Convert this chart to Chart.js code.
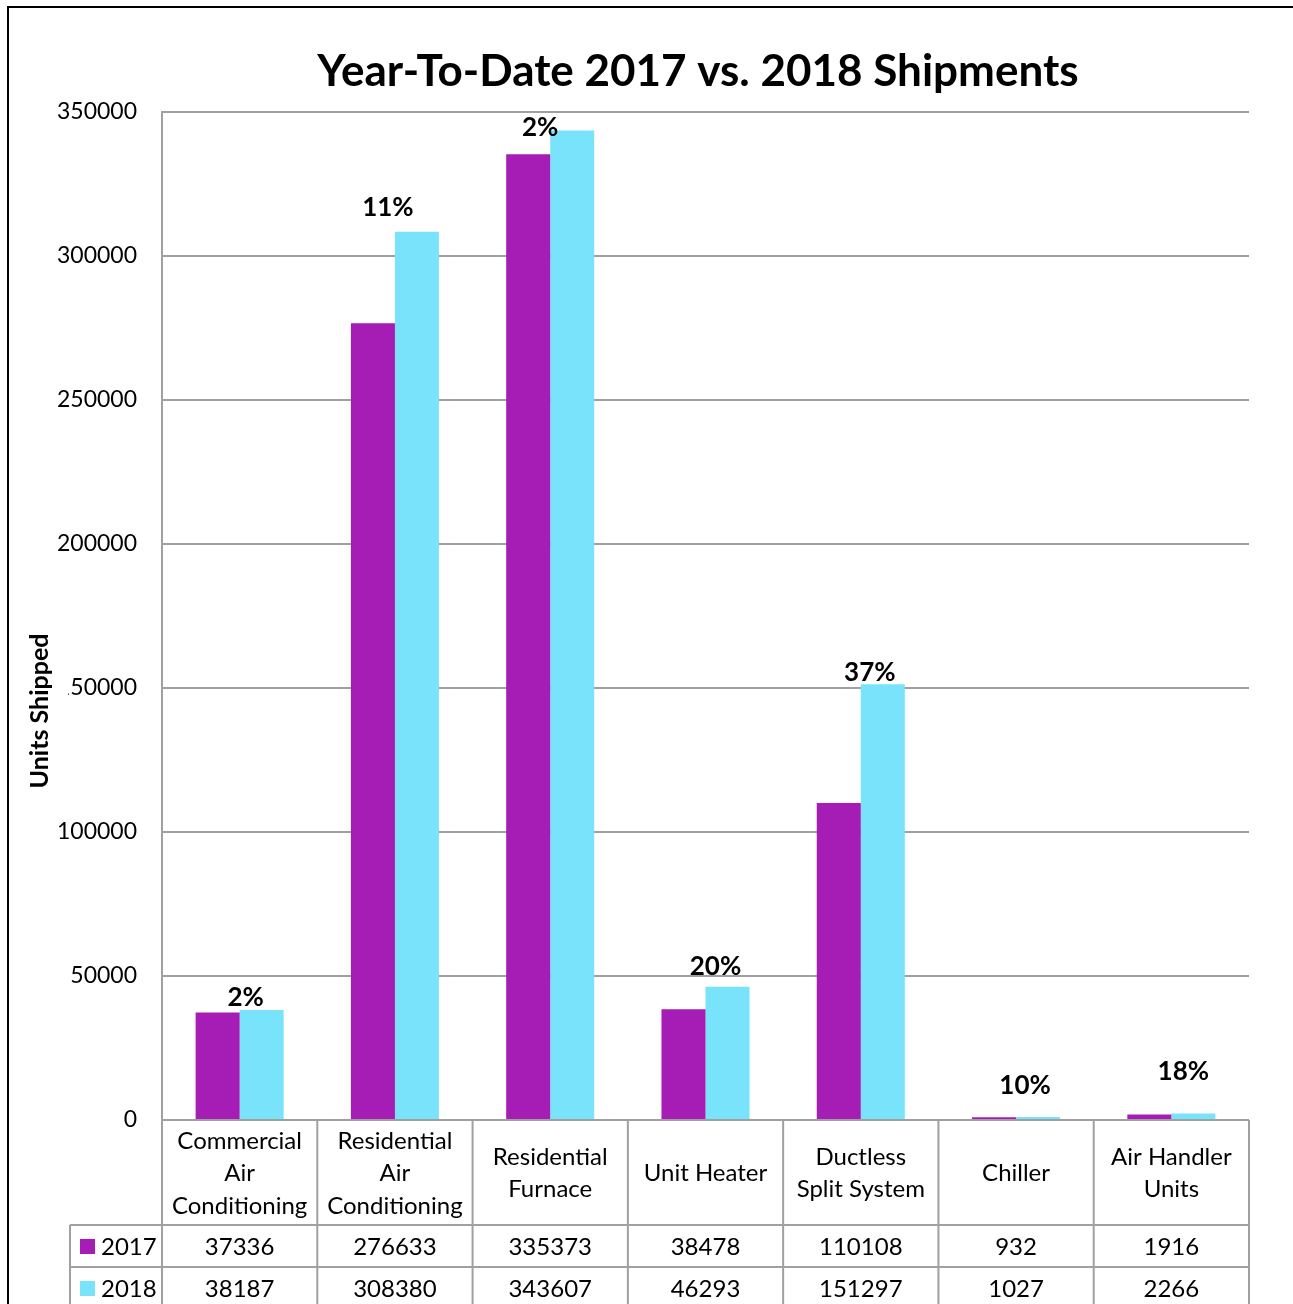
<!DOCTYPE html>
<html>
<head>
<meta charset="utf-8">
<script src="https://cdn.jsdelivr.net/npm/chart.js@4.4.1/dist/chart.umd.min.js"></script>
<style>
  html, body { margin: 0; padding: 0; background: #fff; }
  #wrap { width: 1293px; height: 1304px; }
</style>
</head>
<body>
<div id="wrap"><canvas id="chart" width="1293" height="1304"></canvas></div>
<script>
// categories, one per column of the data table
const categories = [
  ['Commercial', 'Air', 'Conditioning'],
  ['Residential', 'Air', 'Conditioning'],
  ['Residential', 'Furnace'],
  ['Unit Heater'],
  ['Ductless', 'Split System'],
  ['Chiller'],
  ['Air Handler', 'Units']
];
const seriesNames = ['2017', '2018'];
const values2017 = [37336, 276633, 335373, 38478, 110108, 932, 1916];
const values2018 = [38187, 308380, 343607, 46293, 151297, 1027, 2266];
const yTicks = [0, 50000, 100000, 150000, 200000, 250000, 300000, 350000];

// manual nudges of the % labels (dx from group centre, dy above the taller bar)
const labelNudge = [[6, 12], [-7, 24], [-10, 3], [10, 20], [9, 12], [9, 31], [12, 42]];

const purple = '#a51db4';
const cyan = '#79e3fc';
const gridGrey = '#a0a0a0';
const font = 'Lato, "Open Sans", sans-serif';

const tablePlugin = {
  id: 'tablePlugin',
  afterDraw(chart) {
    const ctx = chart.ctx;
    const x = chart.scales.x;
    const y = chart.scales.y;
    const area = chart.chartArea;
    const n = categories.length;
    const step = (area.right - area.left) / n;

    ctx.save();

    // outer frame (only top and left visible in the crop)
    ctx.strokeStyle = '#000';
    ctx.lineWidth = 2;
    ctx.beginPath();
    ctx.moveTo(8, 1304);
    ctx.lineTo(8, 7);
    ctx.lineTo(1293, 7);
    ctx.stroke();

    // title
    ctx.fillStyle = '#000';
    ctx.font = 'bold 44px ' + font;
    ctx.textAlign = 'center';
    ctx.textBaseline = 'middle';
    ctx.fillText('Year-To-Date 2017 vs. 2018 Shipments', 698, 72);

    // y axis title, its box hides part of a tick label
    ctx.fillStyle = '#fff';
    ctx.fillRect(22, 625, 46, 175);
    ctx.save();
    ctx.translate(40, 711);
    ctx.rotate(-Math.PI / 2);
    ctx.fillStyle = '#000';
    ctx.font = 'bold 25px ' + font;
    ctx.fillText('Units Shipped', 0, 0);
    ctx.restore();

    // percent change labels
    ctx.font = 'bold 26px ' + font;
    ctx.fillStyle = '#000';
    for (let i = 0; i < n; i++) {
      const pct = Math.round((values2018[i] - values2017[i]) / values2017[i] * 100);
      const top = y.getPixelForValue(Math.max(values2017[i], values2018[i]));
      const cx = x.getPixelForValue(i);
      ctx.fillText(pct + '%', cx + labelNudge[i][0], top - labelNudge[i][1]);
    }

    // data table
    const headBottom = 1225;
    const row1Bottom = 1267;
    const row2Bottom = 1309;
    const legendLeft = 70;
    ctx.strokeStyle = gridGrey;
    ctx.lineWidth = 2;
    ctx.beginPath();
    for (let i = 0; i <= n; i++) {
      const lx = area.left + i * step;
      ctx.moveTo(lx, area.bottom);
      ctx.lineTo(lx, 1304);
    }
    ctx.moveTo(legendLeft, headBottom);
    ctx.lineTo(legendLeft, 1304);
    [headBottom, row1Bottom, row2Bottom].forEach(function(ly) {
      ctx.moveTo(legendLeft, ly);
      ctx.lineTo(area.right, ly);
    });
    ctx.stroke();

    ctx.font = '24px ' + font;
    ctx.fillStyle = '#000';
    const headMid = (area.bottom + headBottom) / 2 + 1;
    const lineH = 32.5;
    for (let i = 0; i < n; i++) {
      const cx = x.getPixelForValue(i);
      const lines = categories[i];
      const y0 = headMid - (lines.length - 1) * lineH / 2;
      lines.forEach(function(t, k) {
        ctx.fillText(t, cx, y0 + k * lineH);
      });
      ctx.fillText(String(values2017[i]), cx, (headBottom + row1Bottom) / 2 + 1);
      ctx.fillText(String(values2018[i]), cx, (row1Bottom + row2Bottom) / 2 + 1);
    }

    // legend keys in the table
    const rows = [[(headBottom + row1Bottom) / 2, purple], [(row1Bottom + row2Bottom) / 2, cyan]];
    ctx.textAlign = 'left';
    rows.forEach(function(r, k) {
      ctx.fillStyle = r[1];
      ctx.fillRect(80, r[0] - 7, 15, 15);
      ctx.fillStyle = '#000';
      ctx.fillText(seriesNames[k], 101, r[0] + 1);
    });

    ctx.restore();
  }
};

new Chart(document.getElementById('chart'), {
  type: 'bar',
  data: {
    labels: categories.map(function(c) { return c.join(' '); }),
    datasets: [
      { label: seriesNames[0], data: values2017, backgroundColor: purple, borderWidth: 0 },
      { label: seriesNames[1], data: values2018, backgroundColor: cyan, borderWidth: 0 }
    ]
  },
  options: {
    responsive: false,
    animation: false,
    layout: { padding: { top: 112, right: 44, bottom: 184, left: 0 } },
    plugins: {
      legend: { display: false },
      title: { display: false },
      tooltip: { enabled: false }
    },
    datasets: {
      bar: { categoryPercentage: 0.567, barPercentage: 1.0 }
    },
    scales: {
      x: {
        display: false
      },
      y: {
        min: 0,
        max: 350000,
        afterFit: function(scale) { scale.width = 162; },
        afterBuildTicks: function(scale) {
          scale.ticks = yTicks.map(function(v) { return { value: v }; });
        },
        grid: { color: gridGrey, lineWidth: 2, drawTicks: false },
        border: { display: true, color: gridGrey, width: 2 },
        ticks: {
          padding: 25,
          color: '#000',
          font: { family: font, size: 23 },
          callback: function(v) { return String(v); }
        }
      }
    }
  },
  plugins: [tablePlugin]
});
</script>
</body>
</html>
